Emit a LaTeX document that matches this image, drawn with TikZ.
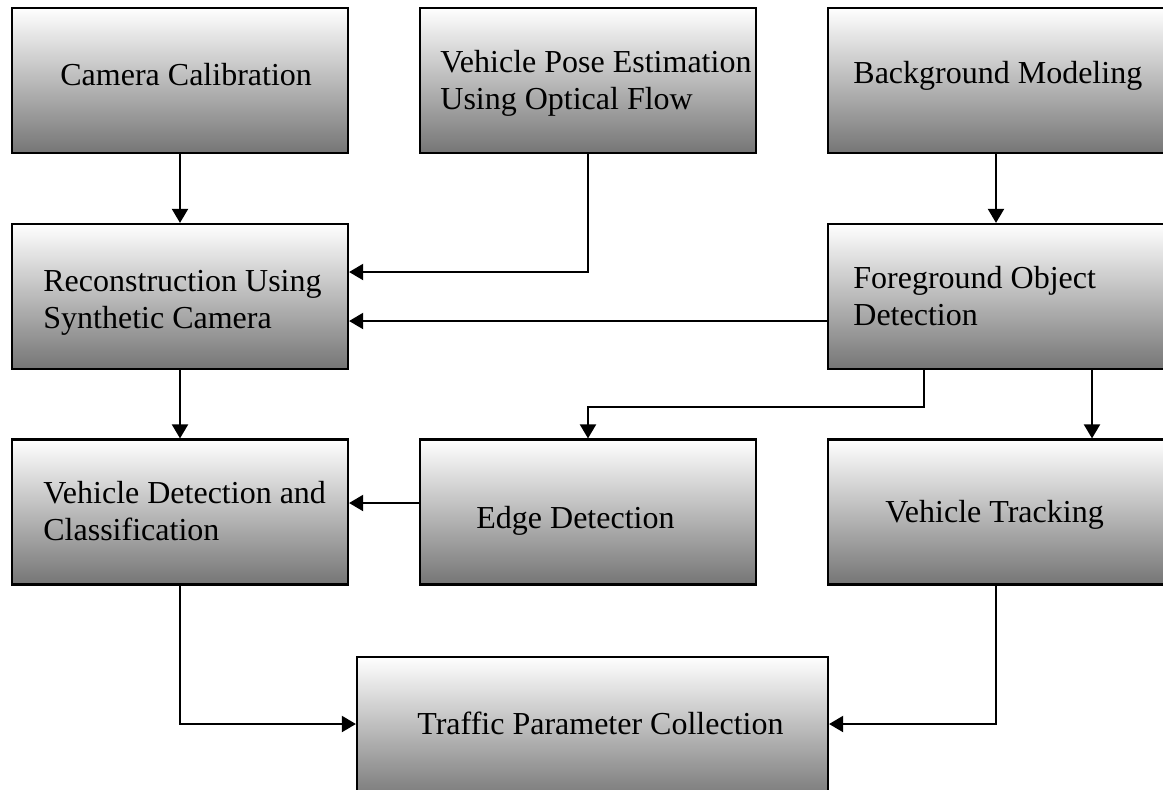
\documentclass[tikz,border=0pt]{standalone}
\usepackage{fontspec}
\setmainfont{Liberation Serif}
\usetikzlibrary{arrows.meta}

\newcommand{\twolines}[2]{\begin{tabular}[t]{@{}l@{}}#1\\#2\end{tabular}}

\begin{document}
\begin{tikzpicture}[
  x=0.5pt, y=-0.5pt,
  stage/.style={draw=black, line width=1.1pt, rectangle,
    top color=white, bottom color=black!54,
    minimum width=168pt, minimum height=72.5pt, inner sep=0pt},
  label/.style={anchor=base west, inner sep=0pt,
    font=\fontsize{16pt}{18.5pt}\selectfont},
  arr/.style={line width=1pt, -{Triangle[length=7pt, width=8pt]}},
]
\useasboundingbox (0,0) rectangle (1163,789);
\clip (0,0) rectangle (1163,789);

% processing stages
\node[stage] (cam)    at (180,80.5)  {};
\node[stage] (pose)   at (588,80.5)  {};
\node[stage] (bg)     at (996,80.5)  {};
\node[stage] (recon)  at (180,296.5) {};
\node[stage] (fg)     at (996,296.5) {};
\node[stage] (vdc)    at (180,512)   {};
\node[stage] (edge)   at (588,512)   {};
\node[stage] (track)  at (996,512)   {};
\node[stage, minimum width=235.5pt] (traffic) at (592.5,729.5) {};

% stage captions
\node[label] at (60,85)   {Camera Calibration};
\node[label] at (440,72)  {\twolines{Vehicle Pose Estimation}{Using Optical Flow}};
\node[label] at (853,83)  {Background Modeling};
\node[label] at (43,291)  {\twolines{Reconstruction Using}{Synthetic Camera}};
\node[label] at (853,288) {\twolines{Foreground Object}{Detection}};
\node[label] at (43,503)  {\twolines{Vehicle Detection and}{Classification}};
\node[label] at (476,528) {Edge Detection};
\node[label] at (885,522) {Vehicle Tracking};
\node[label] at (417,734) {Traffic Parameter Collection};

% data flow
\draw[arr] (cam.south) -- (recon.north);
\draw[arr] (pose.south) |- (recon.east |- 0,272);
\draw[arr] (fg.west |- 0,321) -- (recon.east |- 0,321);
\draw[arr] (bg.south) -- (fg.north);
\draw[arr] (recon.south) -- (vdc.north);
\draw[arr] (fg.south -| 924,0) -- (924,407) -| (edge.north);
\draw[arr] (fg.south -| 1092,0) -- (track.north -| 1092,0);
\draw[arr] (edge.west |- 0,503) -- (vdc.east |- 0,503);
\draw[arr] (vdc.south) |- (traffic.west |- 0,724);
\draw[arr] (track.south) |- (traffic.east |- 0,724);
\end{tikzpicture}
\end{document}
